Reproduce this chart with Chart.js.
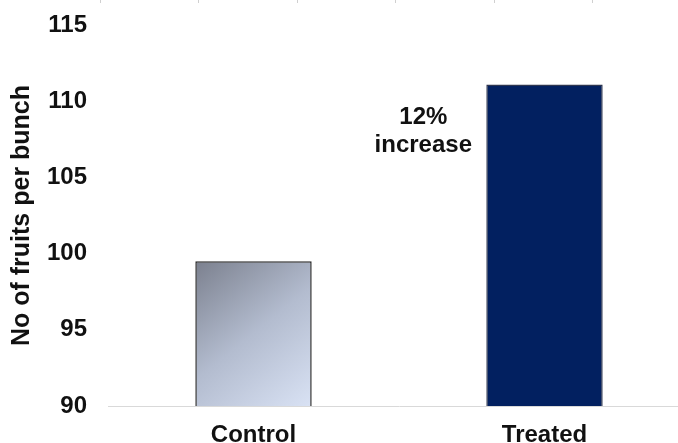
<!DOCTYPE html>
<html>
<head>
<meta charset="utf-8">
<script src="https://cdn.jsdelivr.net/npm/chart.js@4.4.1/dist/chart.umd.min.js"></script>
<style>
  html, body { margin: 0; padding: 0; background: #fff; overflow: hidden; }
  #wrap { width: 690px; height: 443px; position: relative; }
</style>
</head>
<body>
<div id="wrap"><canvas id="fruitChart"></canvas></div>
<script>
// chart values
const categories = ['Control', 'Treated'];
const fruitsPerBunch = [99.5, 111.1];
const yTicks = [90, 95, 100, 105, 110, 115];
const annotationLines = ['12%', 'increase'];
const annotationValue = 108;

const FONT = "'Liberation Sans', Arial, sans-serif";

// diagonal grey-blue fill for the control bar
function controlFill(context) {
    const chart = context.chart;
    const xs = chart.scales.x;
    const ys = chart.scales.y;
    if (!chart.chartArea || !xs || !ys) return '#aab3c6';
    const i = context.dataIndex;
    const half = xs.width / categories.length * 0.2;
    const cx = xs.getPixelForValue(i);
    const top = ys.getPixelForValue(fruitsPerBunch[i]);
    const bottom = ys.getPixelForValue(yTicks[0]);
    const g = chart.ctx.createLinearGradient(cx - half, top, cx + half, bottom);
    g.addColorStop(0, '#7b808e');
    g.addColorStop(0.5, '#b3bccf');
    g.addColorStop(1, '#d9e2f4');
    return g;
}

// "12% increase" text to the left of the treated bar
const annotationPlugin = {
    id: 'increaseNote',
    afterDatasetsDraw(chart) {
        const bar = chart.getDatasetMeta(0).data[1];
        if (!bar) return;
        const ctx = chart.ctx;
        const x = bar.x - bar.width / 2 - 63;
        const yc = chart.scales.y.getPixelForValue(annotationValue);
        ctx.save();
        ctx.font = 'bold 24px ' + FONT;
        ctx.fillStyle = '#111';
        ctx.textAlign = 'center';
        ctx.textBaseline = 'middle';
        annotationLines.forEach((line, k) => {
            ctx.fillText(line, x, yc + (k - (annotationLines.length - 1) / 2) * 28);
        });
        ctx.restore();
    }
};

// faint tick marks left over along the top edge
const topTicksPlugin = {
    id: 'topTicks',
    afterDraw(chart) {
        const ctx = chart.ctx;
        ctx.save();
        ctx.strokeStyle = '#d0d0d0';
        ctx.lineWidth = 1;
        for (let k = 0; k < 6; k++) {
            const x = Math.round(100 + k * 98.4) + 0.5;
            ctx.beginPath();
            ctx.moveTo(x, 0);
            ctx.lineTo(x, 3);
            ctx.stroke();
        }
        ctx.restore();
    }
};

const ctx = document.getElementById('fruitChart').getContext('2d');
new Chart(ctx, {
    type: 'bar',
    data: {
        labels: categories,
        datasets: [{
            label: 'No of fruits per bunch',
            data: fruitsPerBunch,
            backgroundColor: (c) => c.dataIndex === 0 ? controlFill(c) : '#022060',
            borderColor: ['#2a2a2a', '#2e3650'],
            borderWidth: 1.5,
            barPercentage: 0.4,
            categoryPercentage: 1.0,
        }],
    },
    options: {
        responsive: true,
        maintainAspectRatio: false,
        animation: false,
        layout: { padding: { top: 25, left: 0, right: 0, bottom: 0 } },
        plugins: {
            legend: { display: false },
            tooltip: { enabled: false },
        },
        scales: {
            x: {
                grid: { display: false, drawTicks: false },
                border: { display: true, color: '#d9d9d9', width: 1 },
                ticks: {
                    color: '#111',
                    padding: 15,
                    font: { family: FONT, size: 24, weight: 'bold' },
                },
                afterFit(scale) {
                    scale.height = 37;
                    scale.paddingLeft = 0;
                    scale.paddingRight = 0;
                },
            },
            y: {
                min: yTicks[0],
                max: yTicks[yTicks.length - 1],
                afterBuildTicks(scale) {
                    scale.ticks = yTicks.map(v => ({ value: v }));
                },
                grid: { display: false, drawTicks: false },
                border: { display: false },
                ticks: {
                    color: '#111',
                    padding: 21,
                    font: { family: FONT, size: 24, weight: 'bold' },
                },
                title: {
                    display: true,
                    text: 'No of fruits per bunch',
                    color: '#111',
                    padding: { top: 7, bottom: 4 },
                    font: { family: FONT, size: 25, weight: 'bold' },
                },
                afterFit(scale) {
                    scale.width = 108;
                    scale.paddingTop = 0;
                    scale.paddingBottom = 0;
                },
            },
        },
    },
    plugins: [annotationPlugin, topTicksPlugin],
});
</script>
</body>
</html>
